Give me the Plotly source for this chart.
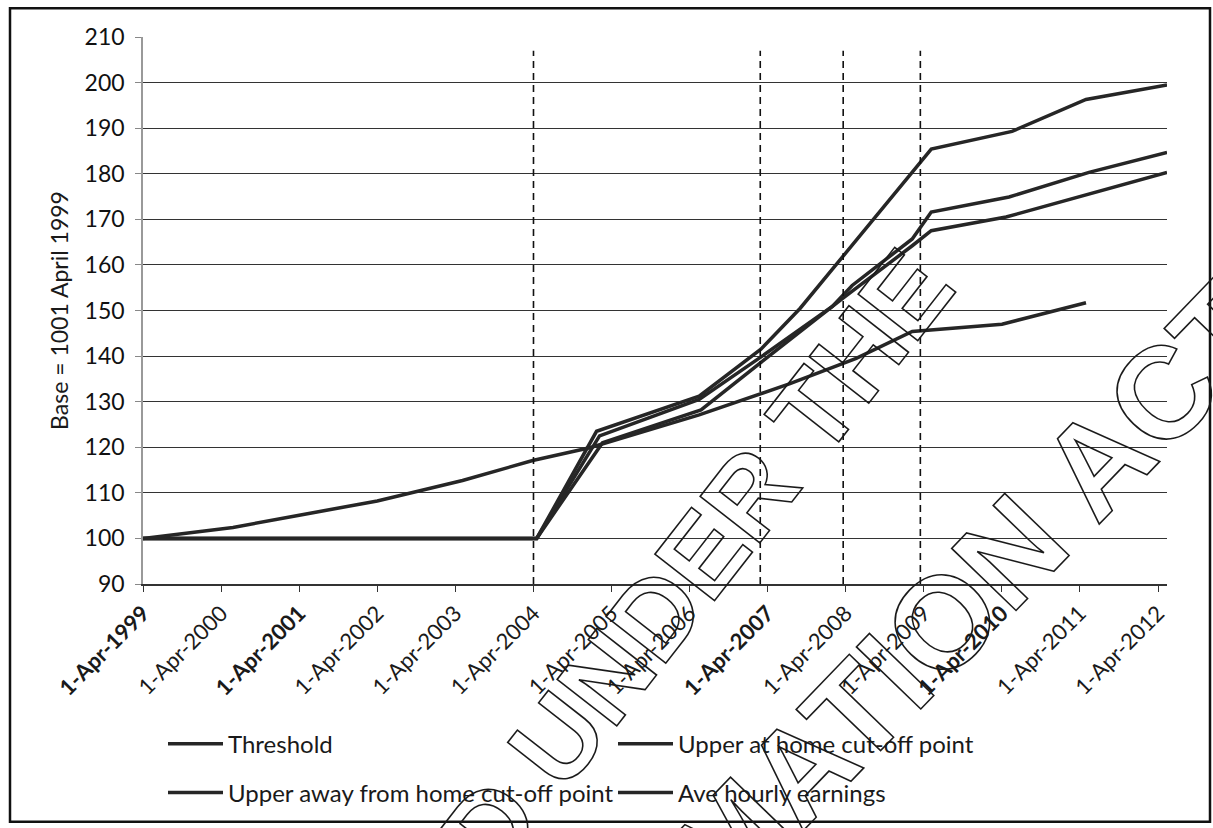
import plotly.graph_objects as go

# ---------------- data ----------------
tick_dates = ["1999-04-01", "2000-04-01", "2001-04-01", "2002-04-01", "2003-04-01",
              "2004-04-01", "2005-04-01", "2006-04-01", "2007-04-01", "2008-04-01",
              "2009-04-01", "2010-04-01", "2011-04-01", "2012-04-01"]
tick_labels = ["<b>1-Apr-1999</b>", "1-Apr-2000", "<b>1-Apr-2001</b>", "1-Apr-2002", "1-Apr-2003",
               "1-Apr-2004", "1-Apr-2005", "1-Apr-2006", "<b>1-Apr-2007</b>", "1-Apr-2008",
               "1-Apr-2009", "<b>1-Apr-2010</b>", "1-Apr-2011", "1-Apr-2012"]

threshold_dates = ["1999-04-01", "2004-04-16", "2005-02-18", "2006-05-25", "2007-03-25",
                   "2008-03-16", "2009-02-06", "2009-05-06", "2010-04-21", "2012-05-13"]
threshold_vals = [100, 100, 121.0, 128.2, 139.5, 152.6, 164.2, 167.5, 170.5, 180.3]

home_dates = ["1999-04-01", "2004-04-16", "2005-02-04", "2006-05-16", "2007-03-07",
              "2008-01-29", "2008-05-01", "2009-02-06", "2009-05-06", "2010-05-05",
              "2011-05-14", "2012-05-13"]
home_vals = [100, 100, 122.5, 130.5, 140.0, 150.9, 155.5, 165.7, 171.6, 174.9, 180.3, 184.7]

away_dates = ["1999-04-01", "2004-04-16", "2005-01-21", "2006-05-16", "2007-03-01",
              "2007-09-01", "2009-05-06", "2010-05-19", "2011-04-30", "2012-05-13"]
away_vals = [100, 100, 123.5, 131.2, 141.5, 150.5, 185.4, 189.3, 196.3, 199.5]

earn_dates = ["1999-04-01", "2000-05-26", "2001-04-01", "2002-04-01", "2003-05-05",
              "2004-03-28", "2004-12-20", "2006-05-16", "2007-07-12", "2008-05-20",
              "2009-02-06", "2010-04-02", "2011-04-30"]
earn_vals = [100, 102.4, 105.1, 108.2, 112.7, 117.1, 119.9, 127.1, 133.9, 139.5,
             145.4, 147.0, 151.7]

vline_dates = ["2004-04-01", "2007-02-26", "2008-03-20", "2009-03-16"]
vline_top = 207

series_names = ["Threshold", "Upper at home cut-off point",
                "Upper away from home cut-off point", "Ave hourly earnings"]

x_range = ["1999-04-01", "2012-05-13"]
y_range = [90, 210]

stamp_line1 = "RELEASED UNDER THE"
stamp_line2 = "OFFICIAL INFORMATION ACT"

# ---------------- figure ----------------
FONT = "Lato, 'Open Sans', sans-serif"
LINE_COLOR = "#262626"

W, H = 1213, 828
L, R, T, B = 143, 46, 37, 241
pw, ph = W - L - R, H - T - B
def px(xp):
    return (xp - L) / pw
def py(yp):
    return (H - B - yp) / ph

fig = go.Figure()
series = [(series_names[0], threshold_dates, threshold_vals, "legend"),
          (series_names[1], home_dates, home_vals, "legend"),
          (series_names[2], away_dates, away_vals, "legend2"),
          (series_names[3], earn_dates, earn_vals, "legend2")]
for name, xs, ys, lg in series:
    fig.add_trace(go.Scatter(x=xs, y=ys, name=name, mode="lines", legend=lg,
                             line=dict(color=LINE_COLOR, width=3.5)))

# dashed vertical markers
for d in vline_dates:
    fig.add_shape(type="line", xref="x", yref="y", x0=d, x1=d, y0=y_range[0], y1=vline_top,
                  line=dict(color="#111111", width=1.6, dash="7px,5px"), layer="above")

# outer frame
fig.add_shape(type="rect", xref="paper", yref="paper",
              x0=px(10), x1=px(1210), y0=py(826), y1=py(8),
              line=dict(color="#111111", width=2.5), layer="above")

# stamp (outlined watermark text)
STAMP_FONT = "Liberation Sans, Arial, sans-serif"
fig.add_annotation(text=stamp_line1, xref="paper", yref="paper",
                   x=px(536), y=py(770), xanchor="center", yanchor="middle",
                   showarrow=False, textangle=-52,
                   font=dict(family=STAMP_FONT, size=110, color="rgba(0,0,0,0)", weight="bold"))
fig.add_annotation(text=stamp_line2, xref="paper", yref="paper",
                   x=px(611), y=py(970), xanchor="center", yanchor="middle",
                   showarrow=False, textangle=-46,
                   font=dict(family=STAMP_FONT, size=130, color="rgba(0,0,0,0)", weight="bold"))

legend_common = dict(orientation="h", xanchor="left", yanchor="middle",
                     font=dict(size=24, family=FONT, color="#1a1a1a"),
                     entrywidth=380, itemwidth=55, traceorder="normal",
                     bgcolor="rgba(0,0,0,0)")

fig.update_layout(
    width=W, height=H,
    margin=dict(l=L, r=R, t=T, b=B),
    paper_bgcolor="white", plot_bgcolor="white",
    font=dict(family=FONT, color="#1a1a1a"),
    showlegend=True,
    legend=dict(x=px(163), y=py(748), **legend_common),
    legend2=dict(x=px(163), y=py(797), **legend_common),
    xaxis=dict(type="date", range=x_range, tickmode="array", tickvals=tick_dates,
               ticktext=tick_labels, tickangle=-45, ticks="outside", ticklen=6,
               tickcolor="#333", showline=True, linecolor="#333", linewidth=1.5,
               showgrid=False, zeroline=False, tickfont=dict(size=22, family=FONT)),
    yaxis=dict(range=y_range, dtick=10, ticks="outside", ticklen=6, tickcolor="#888",
               showline=True, linecolor="#999", linewidth=1.5, ticklabelstandoff=6,
               showgrid=True, gridcolor="#333333", gridwidth=1.4, zeroline=False,
               tickfont=dict(size=23, family=FONT, color="#111111"),
               title=dict(text="Base = 1001 April 1999", font=dict(size=23, family=FONT),
                          standoff=10)),
)

post = """
document.body.style.margin = '0';
document.body.style.padding = '0';
var gd = document.getElementById('{plot_id}');
function outlineStamp(){
  gd.querySelectorAll('g.annotation text').forEach(function(t){
    var s = t.textContent || '';
    if (s.indexOf('UNDER') >= 0 || s.indexOf('INFORMATION') >= 0) {
      t.style.fill = 'none';
      t.style.stroke = '#1a1a1a';
      t.style.strokeWidth = '1.6px';
    }
  });
}
outlineStamp();
gd.on('plotly_afterplot', outlineStamp);
"""

fig.write_html("out.html", post_script=post, config={"displayModeBar": False})
